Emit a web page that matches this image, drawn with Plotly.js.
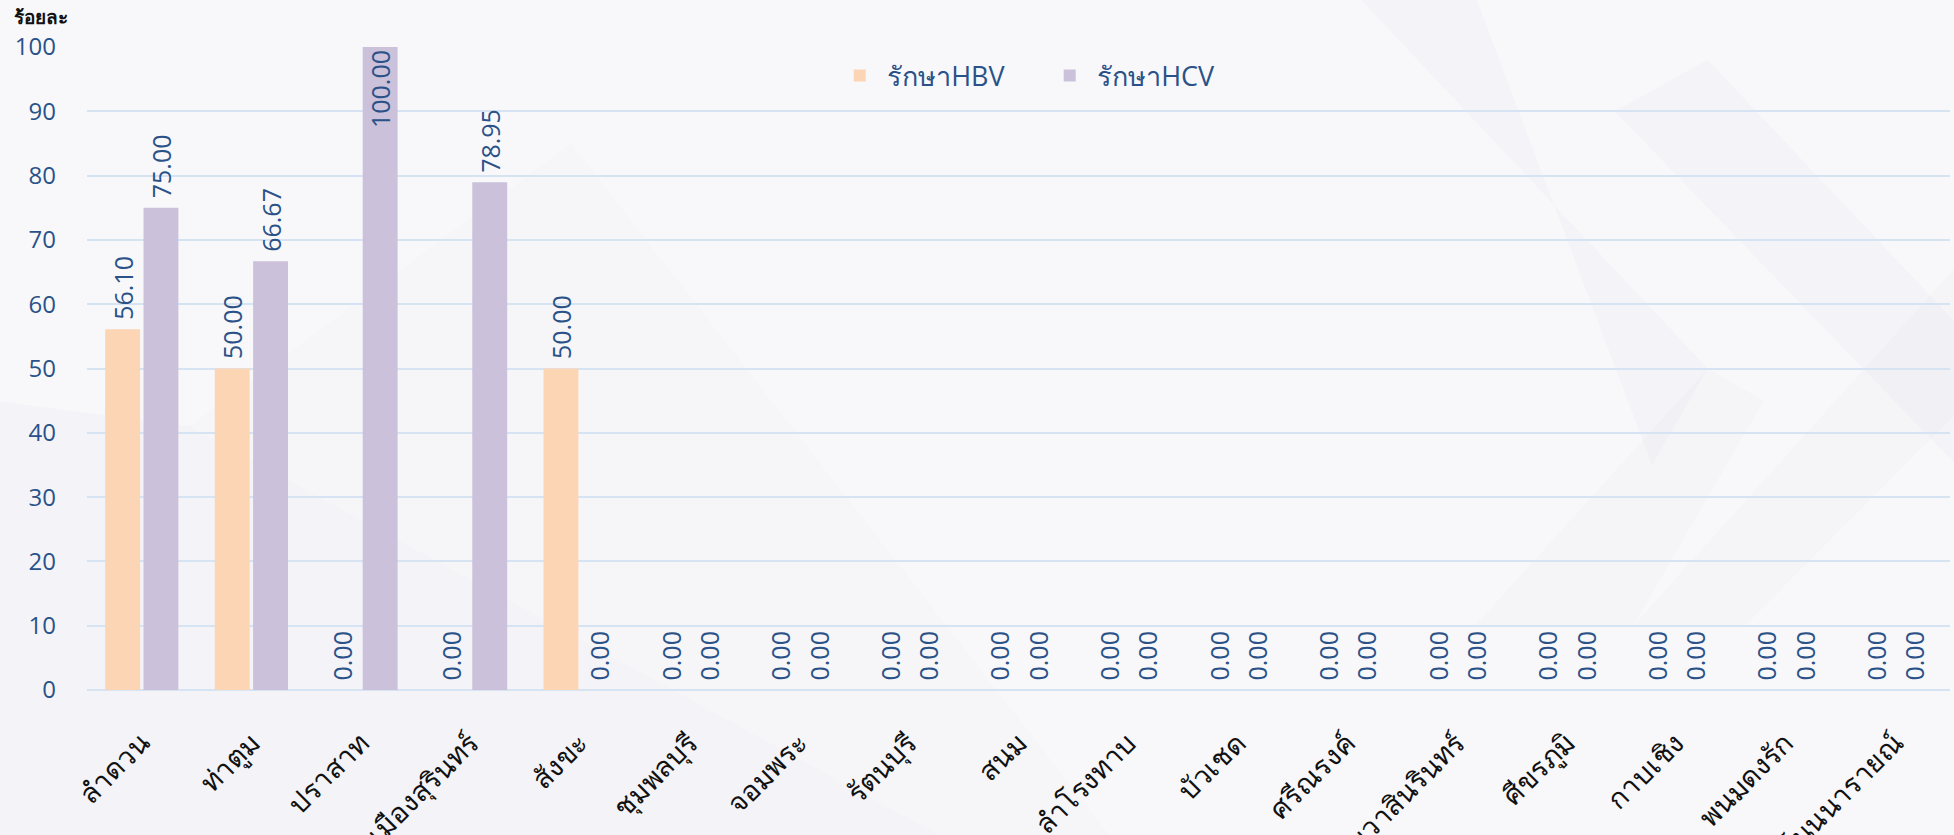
<!DOCTYPE html>
<html>
<head>
<meta charset="utf-8">
<script src="https://cdn.plot.ly/plotly-3.0.1.min.js"></script>
<style>html,body{margin:0;padding:0;background:#f8f8fb;}#chart{width:1954px;height:835px;}</style>
</head>
<body>
<div id="chart"></div>
<script>
const categories = ["ลำดวน","ท่าตูม","ปราสาท","เมืองสุรินทร์","สังขะ","ชุมพลบุรี","จอมพระ","รัตนบุรี","สนม","ลำโรงทาบ","บัวเชด","ศรีณรงค์","เขวาสินรินทร์","ศีขรภูมิ","กาบเชิง","พนมดงรัก","โนนนารายณ์"];
const hbvValues = [56.10, 50.00, 0, 0, 50.00, 0, 0, 0, 0, 0, 0, 0, 0, 0, 0, 0, 0];
const hcvValues = [75.00, 66.67, 100.00, 78.95, 0, 0, 0, 0, 0, 0, 0, 0, 0, 0, 0, 0, 0];
const seriesNames = ["รักษาHBV", "รักษาHCV"];
const yTitle = "ร้อยละ";

const labelFont = {family: "Open Sans, Noto Sans, sans-serif", size: 25, color: "#2a5288"};
function barTrace(name, values, color) {
  return {
    type: "bar", name: name, x: categories, y: values,
    marker: {color: color},
    texttemplate: "\u00a0%{y:.2f}",
    textposition: values.map(v => v >= 95 ? "inside" : "outside"),
    insidetextanchor: "end",
    textangle: -90, constraintext: "none",
    cliponaxis: false, textfont: labelFont, insidetextfont: labelFont, outsidetextfont: labelFont,
    hoverinfo: "x+y"
  };
}
const data = [
  barTrace(seriesNames[0], hbvValues, "#fcd5b4"),
  barTrace(seriesNames[1], hcvValues, "#cbc1da")
];
const g = "rgba(150,150,175,0.035)";
const bgShapes = [
  {type:"path", xref:"paper", yref:"paper", path:"M -0.05 0.45 L 0.055 0.41 L 0.46 -0.23 L -0.05 -0.23 Z", fillcolor:g, line:{width:0}, layer:"below"},
  {type:"path", xref:"paper", yref:"paper", path:"M 0.055 0.41 L 0.26 0.85 L 0.55 -0.23 L 0.46 -0.23 Z", fillcolor:"rgba(150,150,175,0.025)", line:{width:0}, layer:"below"},
  {type:"path", xref:"paper", yref:"paper", path:"M 0.684 1.073 L 0.87 0.5 L 0.84 0.35 L 0.746 1.073 Z", fillcolor:g, line:{width:0}, layer:"below"},
  {type:"path", xref:"paper", yref:"paper", path:"M 0.82 0.9 L 1.01 0.33 L 1.01 0.55 L 0.87 0.98 Z", fillcolor:g, line:{width:0}, layer:"below"},
  {type:"path", xref:"paper", yref:"paper", path:"M 0.745 0.1 L 0.87 0.5 L 0.9 0.45 L 0.83 0.1 Z", fillcolor:"rgba(150,150,175,0.03)", line:{width:0}, layer:"below"},
  {type:"path", xref:"paper", yref:"paper", path:"M 0.83 0.1 L 1.01 0.68 L 1.01 0.45 L 0.89 0.1 Z", fillcolor:"rgba(150,150,175,0.03)", line:{width:0}, layer:"below"}
];
const layout = {
  width: 1954, height: 835,
  margin: {l: 87, r: 4, t: 47, b: 145},
  paper_bgcolor: "#f8f8fb", plot_bgcolor: "rgba(0,0,0,0)",
  font: {family: "Open Sans, Noto Sans, sans-serif", color: "#2a5288"},
  barmode: "group", bargap: 0.3, bargroupgap: 0.09,
  showlegend: true,
  legend: {orientation: "h", x: 0.4, xanchor: "left", y: 0.955, yanchor: "middle",
           font: {size: 27, color: "#2a5288"}, bgcolor: "rgba(0,0,0,0)", itemwidth: 45,
           entrywidth: 150, entrywidthmode: "pixels", traceorder: "normal"},
  xaxis: {
    type: "category", tickangle: -45, ticks: "", ticklabelstandoff: 30,
    tickfont: {family: "Noto Sans, DejaVu Sans, sans-serif", size: 28, color: "#111111"},
    showgrid: false, zeroline: false, showline: false
  },
  yaxis: {
    range: [0, 100], dtick: 10, tick0: 0, ticks: "", ticklabelstandoff: 30,
    tickfont: {family: "Open Sans, sans-serif", size: 24, color: "#2a5288"},
    gridcolor: "#d5e3f3", gridwidth: 2, zeroline: true, zerolinecolor: "#d5e3f3", zerolinewidth: 2,
    showline: false
  },
  annotations: [
    {text: "<b>" + yTitle + "</b>", xref: "paper", yref: "paper", x: -0.0405, y: 1.047, xanchor: "left", yanchor: "middle",
     showarrow: false, font: {family: "Noto Sans, DejaVu Sans, sans-serif", size: 19, color: "#111111"}}
  ],
  shapes: bgShapes
};
Plotly.newPlot("chart", data, layout, {displayModeBar: false, staticPlot: true});
</script>
</body>
</html>
